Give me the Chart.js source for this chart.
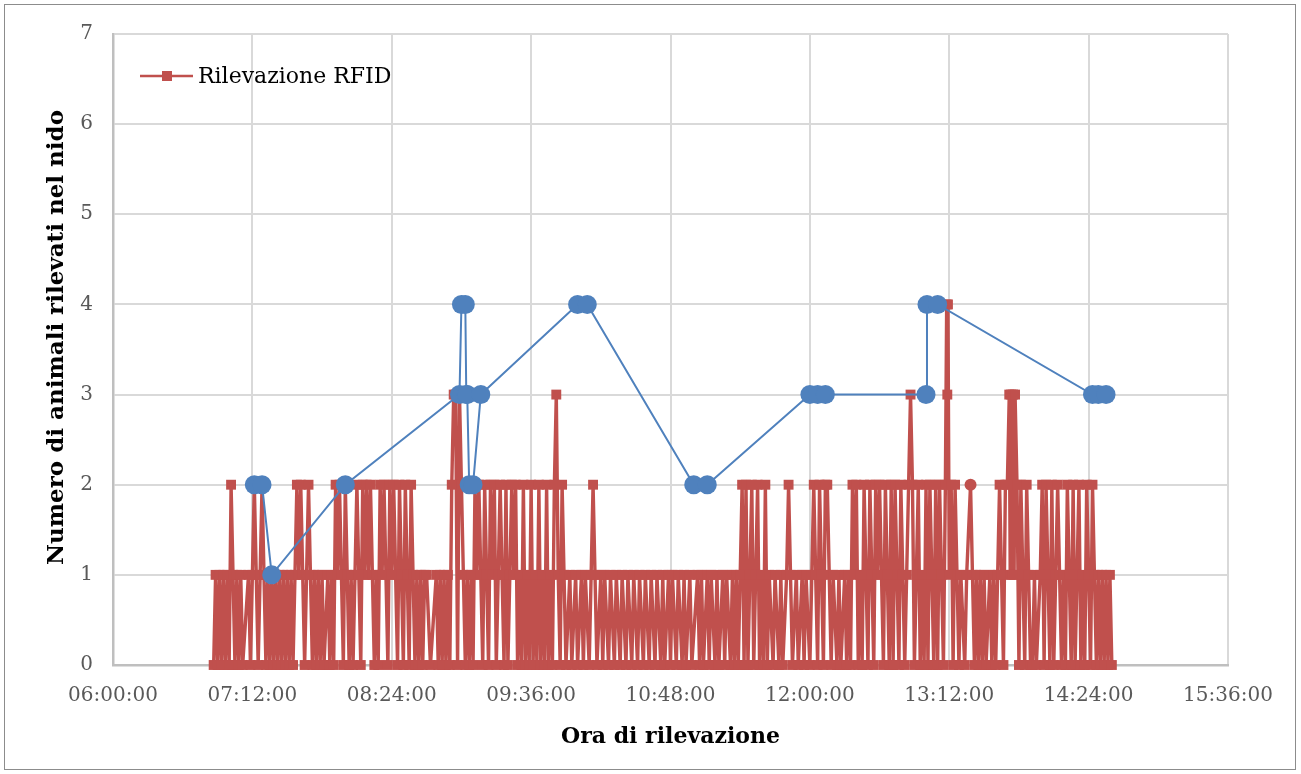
<!DOCTYPE html>
<html>
<head>
<meta charset="utf-8">
<script src="https://cdn.jsdelivr.net/npm/chart.js@4.4.1/dist/chart.umd.min.js"></script>
<style>
  html, body { margin: 0; padding: 0; background: #fff; }
  #wrap { position: relative; width: 1301px; height: 774px; }
  #frame { position: absolute; left: 4px; top: 4px; width: 1290px; height: 764px; border: 1px solid #8c8c8c; pointer-events: none; }
  canvas { position: absolute; left: 0; top: 0; }
</style>
</head>
<body>
<div id="wrap">
  <canvas id="chart" width="1301" height="774"></canvas>
  <div id="frame"></div>
</div>
<script>
// asse x: ore del giorno
const xTickStart = '06:00';
const xTickEnd = '15:36';
const xTickStepMin = 72;
const yTicks = [0, 1, 2, 3, 4, 5, 6, 7];
const yTitle = 'Numero di animali rilevati nel nido';

// Rilevazione RFID (serie rossa)
const rfidTimes = [
  '06:52','06:53','06:54','06:55','06:56','06:57','06:58','06:59','07:00','07:01',
  '07:02','07:03','07:04','07:05','07:06','07:07',
  '07:10','07:11','07:12','07:13','07:14','07:15','07:16','07:17','07:18','07:19',
  '07:20','07:21','07:22','07:23','07:24','07:25','07:26','07:27','07:28','07:29',
  '07:30','07:31','07:32','07:33','07:34','07:35','07:36','07:37','07:38','07:39',
  '07:40','07:41','07:42','07:43','07:44','07:45','07:46','07:47','07:48','07:49',
  '07:51','07:52','07:53','07:54','07:55','07:56','07:57','07:58','07:59','08:00',
  '08:01','08:02','08:03','08:04','08:05','08:06','08:07','08:08','08:09','08:10',
  '08:11','08:12','08:13','08:14','08:15','08:16','08:17','08:18','08:19','08:20',
  '08:21','08:22','08:23','08:24','08:25','08:26','08:27','08:28','08:29','08:30',
  '08:31','08:32','08:33','08:34','08:35','08:36','08:37','08:38','08:39','08:40',
  '08:41','08:42','08:44',
  '08:47','08:48','08:49','08:50','08:51','08:52','08:53','08:54','08:55','08:56',
  '08:57','08:58','08:59','09:00','09:01','09:02','09:03','09:04','09:05','09:06',
  '09:07','09:08','09:09','09:10','09:11','09:12','09:13','09:14','09:15','09:16',
  '09:17','09:18','09:19','09:20','09:21','09:22','09:23','09:24','09:25','09:26',
  '09:27','09:28','09:29',
  '09:30','09:31','09:32','09:33','09:34','09:35','09:36','09:37','09:38','09:39',
  '09:40','09:41','09:42','09:43','09:44','09:45','09:46','09:47','09:48','09:49',
  '09:50','09:51','09:52','09:53','09:54','09:56','09:57','09:59','10:00','10:02',
  '10:03','10:04','10:06','10:07','10:08','10:09','10:10','10:12','10:13','10:14',
  '10:16','10:17','10:19','10:20','10:22','10:23','10:25','10:26','10:28','10:29',
  '10:31','10:32','10:34','10:35','10:37','10:38','10:40','10:41','10:43','10:44',
  '10:45',
  '10:47','10:48','10:49','10:51','10:52','10:54','10:55','10:56','10:58','10:59',
  '11:02','11:03','11:04','11:05','11:07','11:08','11:09','11:11','11:12','11:13',
  '11:15','11:16','11:17','11:19','11:20','11:21','11:22','11:23','11:24','11:25',
  '11:26','11:27','11:28','11:29','11:30','11:31','11:32','11:33','11:34','11:35',
  '11:36','11:37','11:38','11:39','11:41','11:42','11:44','11:45','11:46','11:48',
  '11:49','11:50','11:51','11:53','11:54','11:56','11:57','11:58','12:00','12:01',
  '12:02','12:03','12:04','12:05','12:06','12:07','12:08','12:09','12:10','12:11',
  '12:12','12:14','12:15','12:16','12:18','12:19','12:20','12:21','12:22','12:23',
  '12:24','12:25','12:26','12:27','12:28','12:29','12:30','12:31','12:32','12:33',
  '12:34','12:35','12:36','12:37',
  '12:38','12:39','12:40','12:41','12:42','12:43','12:44','12:45','12:46','12:47',
  '12:48','12:49','12:50','12:51','12:52','12:53','12:54','12:55','12:56','12:57',
  '12:58','12:59','13:00','13:01','13:02','13:03','13:04','13:05','13:06','13:07',
  '13:08','13:09','13:10','13:10:40','13:11','13:11:20','13:12','13:13','13:14','13:15','13:16',
  '13:17','13:18','13:20','13:21','13:23','13:24','13:25','13:26','13:27','13:28',
  '13:29','13:30','13:31','13:33','13:34','13:35','13:36','13:37','13:38','13:39',
  '13:40','13:41',
  '13:42','13:43','13:43:30','13:44','13:44:30','13:45','13:45:30','13:46','13:47','13:48',
  '13:49','13:50','13:51','13:52','13:53','13:54','13:55','13:56','13:57',
  '13:59','14:00','14:01','14:02','14:03','14:04','14:05','14:06','14:07','14:08',
  '14:09','14:10','14:11','14:12','14:13','14:14','14:15','14:16','14:17','14:18',
  '14:19','14:20','14:21','14:22','14:23','14:24','14:25','14:26','14:27','14:28',
  '14:29','14:30','14:31','14:32','14:33','14:34','14:35','14:36'
];
const rfidCounts = [
  0,1,0,1,0,1,0,1,0,2,
  1,0,1,0,1,0,
  1,0,1,2,1,0,1,2,1,0,
  1,0,1,0,1,0,1,0,1,0,
  1,0,1,0,1,2,1,2,1,0,
  1,2,1,0,1,0,1,0,1,0,
  1,0,1,0,2,1,2,1,0,2,
  1,0,1,0,1,2,1,0,2,1,
  2,1,2,1,0,1,0,2,1,2,
  1,0,2,1,2,1,0,2,1,0,
  2,1,0,2,1,0,1,0,1,0,
  1,1,0,
  1,0,1,0,1,0,1,0,2,3,
  3,0,3,2,1,0,1,0,1,0,
  2,1,2,1,0,2,1,0,2,1,
  2,0,1,2,1,0,2,0,1,2,
  1,2,0,
  1,0,2,0,1,0,2,0,1,0,
  2,0,1,0,2,0,1,0,2,3,
  1,0,2,1,0,1,0,1,0,1,
  0,1,0,1,2,1,0,1,0,1,
  0,1,0,1,0,1,0,1,0,1,
  0,1,0,1,0,1,0,1,0,1,
  0,
  1,0,1,0,1,0,1,0,1,0,
  1,0,1,0,1,0,1,0,1,0,
  1,0,1,0,1,0,1,0,1,2,
  0,2,0,1,2,0,1,2,0,1,
  0,2,0,1,0,1,0,1,0,1,
  2,1,0,1,0,1,0,1,0,1,
  2,1,0,2,1,0,2,2,1,0,
  1,0,1,0,1,0,1,0,2,1,
  2,0,1,0,2,1,0,2,1,0,
  2,1,2,1,
  0,2,1,0,2,0,2,1,0,2,
  1,0,1,2,3,2,0,1,2,0,
  1,0,2,0,2,1,0,2,0,2,
  1,0,2,4,3,4,1,2,0,2,1,
  0,1,0,1,2,1,0,1,0,1,
  0,1,0,1,0,1,0,1,2,1,
  0,2,
  2,3,1,3,1,3,1,3,2,0,
  2,1,0,2,1,0,0,1,0,
  1,2,0,2,1,0,2,0,1,2,
  1,0,1,0,2,1,0,2,0,1,
  2,0,1,0,2,1,0,2,1,0,
  1,0,1,0,1,0,1,0
];
const rfidRoundMarks = ['13:23'];

// serie blu (senza voce di legenda)
const presenceTimes = [
  '07:13','07:17','07:22','08:00','08:59','09:00','09:02','09:02:30','09:03','09:04',
  '09:06','09:10','10:00','10:05','11:00','11:07','12:00','12:04','12:08','13:00',
  '13:00:30','13:06','14:26','14:29','14:33'
];
const presenceCounts = [
  2,2,1,2,3,4,4,3,3,2,
  2,3,4,4,2,2,3,3,3,3,
  4,4,3,3,3
];

const RED = '#C0504D';
const BLUE = '#4F81BD';
const FONT = '"DejaVu Serif", "Liberation Serif", serif';

function toMinutes(t) {
  const p = t.split(':').map(Number);
  return p[0] * 60 + p[1] + (p[2] || 0) / 60;
}
function fmtTime(m) {
  const h = Math.floor(m / 60), mm = Math.round(m % 60);
  return String(h).padStart(2, '0') + ':' + String(mm).padStart(2, '0') + ':00';
}

const rfidData = rfidTimes.map((t, i) => ({ x: toMinutes(t), y: rfidCounts[i] }));
const presenceData = presenceTimes.map((t, i) => ({ x: toMinutes(t), y: presenceCounts[i] }));

// legenda stile Excel (linea + quadrato) e titolo verticale un po' spostato in alto
const excelLegend = {
  id: 'excelLegend',
  afterDraw(chart) {
    const { ctx, chartArea } = chart;
    const ds = chart.data.datasets[1];
    const x0 = chartArea.left + 27;
    const y = chartArea.top + 42;
    ctx.save();
    ctx.strokeStyle = RED;
    ctx.lineWidth = 2.5;
    ctx.beginPath();
    ctx.moveTo(x0, y);
    ctx.lineTo(x0 + 53, y);
    ctx.stroke();
    ctx.fillStyle = RED;
    ctx.fillRect(x0 + 22, y - 5, 10, 10);
    ctx.fillStyle = '#000';
    ctx.font = '22px ' + FONT;
    ctx.textBaseline = 'middle';
    ctx.fillText(ds.label, x0 + 58, y + 1);

    ctx.translate(57, (chartArea.top + chartArea.bottom) / 2 - 12);
    ctx.rotate(-Math.PI / 2);
    ctx.font = 'bold 23px ' + FONT;
    ctx.textAlign = 'center';
    ctx.fillText(yTitle, 0, 0);
    ctx.restore();
  }
};

new Chart(document.getElementById('chart'), {
  type: 'scatter',
  data: {
    datasets: [
      {
        label: 'Presenza',
        data: presenceData,
        showLine: true,
        borderColor: BLUE,
        borderWidth: 2,
        pointStyle: 'circle',
        pointRadius: 9.5,
        pointBackgroundColor: BLUE,
        pointBorderWidth: 0,
        clip: false
      },
      {
        label: 'Rilevazione RFID',
        data: rfidData,
        showLine: true,
        borderColor: RED,
        borderWidth: 3.4,
        pointStyle: ctx => rfidRoundMarks.includes(rfidTimes[ctx.dataIndex]) ? 'circle' : 'rect',
        pointRadius: ctx => rfidRoundMarks.includes(rfidTimes[ctx.dataIndex]) ? 6 : 7,
        pointBackgroundColor: RED,
        pointBorderWidth: 0,
        clip: false
      }
    ]
  },
  options: {
    responsive: false,
    animation: false,
    layout: { padding: { left: 30, right: 73, top: 34, bottom: 10 } },
    plugins: {
      legend: { display: false },
      tooltip: { enabled: false }
    },
    scales: {
      x: {
        type: 'linear',
        min: toMinutes(xTickStart),
        max: toMinutes(xTickEnd),
        afterFit: s => { s.height = 99; },
        ticks: {
          stepSize: xTickStepMin,
          callback: v => fmtTime(v),
          color: '#595959',
          font: { family: FONT, size: 20 },
          padding: 19,
          maxRotation: 0,
          autoSkip: false
        },
        grid: { color: '#D9D9D9', lineWidth: 2, drawTicks: false },
        border: { color: '#BFBFBF', width: 2.5 },
        title: {
          display: true,
          text: 'Ora di rilevazione',
          color: '#000',
          font: { family: FONT, size: 22, weight: 'bold' },
          padding: { top: 0, bottom: 14 }
        }
      },
      y: {
        min: yTicks[0],
        max: yTicks[yTicks.length - 1],
        afterFit: s => { s.width = 83; },
        afterBuildTicks: s => { s.ticks = yTicks.map(v => ({ value: v })); },
        ticks: {
          color: '#595959',
          font: { family: FONT, size: 20 },
          padding: 20
        },
        grid: { color: '#D9D9D9', lineWidth: 2, drawTicks: false },
        border: { color: '#BFBFBF', width: 2.5 },
        title: { display: false }
      }
    }
  },
  plugins: [excelLegend]
});
</script>
</body>
</html>
